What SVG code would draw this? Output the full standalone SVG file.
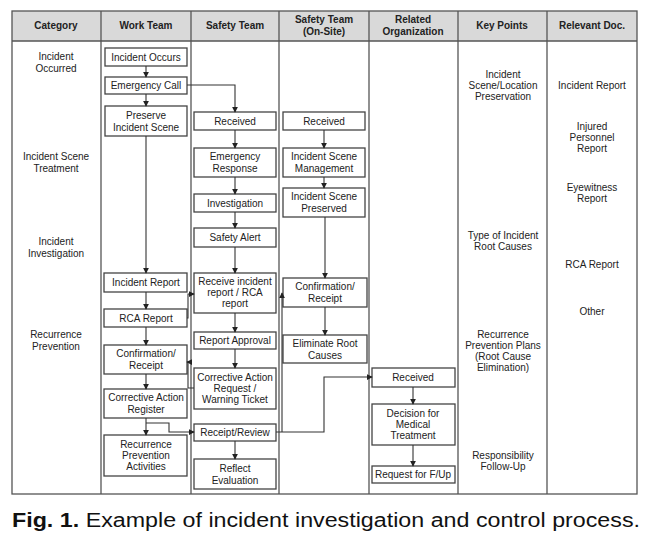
<svg xmlns="http://www.w3.org/2000/svg" width="657" height="540" viewBox="0 0 657 540">
<defs>
<style>
.grid{fill:none;stroke:#555;stroke-width:1.3}
.hdr{fill:#d9d9d9}
.box{fill:#fff;stroke:#444;stroke-width:1.3}
.t{font-family:"Liberation Sans",Arial,sans-serif;font-size:10px;fill:#222;text-anchor:middle}
.h{font-family:"Liberation Sans",Arial,sans-serif;font-size:10px;font-weight:bold;fill:#222;text-anchor:middle}
.c{fill:none;stroke:#333;stroke-width:1.1}
</style>
<marker id="a" viewBox="0 0 8 8" refX="7" refY="4" markerWidth="6" markerHeight="6" orient="auto" markerUnits="userSpaceOnUse"><path d="M0,0 L8,4 L0,8 z" fill="#222"/></marker>
</defs>
<rect x="0" y="0" width="657" height="540" fill="#fff"/>
<g id="table">
<rect class="hdr" x="12" y="11" width="625" height="30"/>
<rect class="grid" x="12" y="11" width="625" height="483"/>
<line class="grid" x1="12" y1="41" x2="637" y2="41"/>
<line class="grid" x1="101" y1="11" x2="101" y2="494"/>
<line class="grid" x1="191" y1="11" x2="191" y2="494"/>
<line class="grid" x1="279" y1="11" x2="279" y2="494"/>
<line class="grid" x1="369" y1="11" x2="369" y2="494"/>
<line class="grid" x1="458" y1="11" x2="458" y2="494"/>
<line class="grid" x1="547" y1="11" x2="547" y2="494"/>
<text class="h" x="56" y="29">Category</text>
<text class="h" x="146" y="29">Work Team</text>
<text class="h" x="235" y="29">Safety Team</text>
<text class="h" x="324" y="23">Safety Team</text>
<text class="h" x="324" y="35">(On-Site)</text>
<text class="h" x="413" y="23">Related</text>
<text class="h" x="413" y="35">Organization</text>
<text class="h" x="502" y="29">Key Points</text>
<text class="h" x="592" y="29">Relevant Doc.</text>
</g>
<g id="category">
<text class="t" x="56" y="60">Incident</text>
<text class="t" x="56" y="72">Occurred</text>
<text class="t" x="56" y="160">Incident Scene</text>
<text class="t" x="56" y="172">Treatment</text>
<text class="t" x="56" y="245">Incident</text>
<text class="t" x="56" y="257">Investigation</text>
<text class="t" x="56" y="338">Recurrence</text>
<text class="t" x="56" y="350">Prevention</text>
</g>
<g id="keypoints">
<text class="t" x="503" y="78">Incident</text>
<text class="t" x="503" y="89">Scene/Location</text>
<text class="t" x="503" y="100">Preservation</text>
<text class="t" x="503" y="239">Type of Incident</text>
<text class="t" x="503" y="250">Root Causes</text>
<text class="t" x="503" y="338">Recurrence</text>
<text class="t" x="503" y="349">Prevention Plans</text>
<text class="t" x="503" y="360">(Root Cause</text>
<text class="t" x="503" y="371">Elimination)</text>
<text class="t" x="503" y="459">Responsibility</text>
<text class="t" x="503" y="470">Follow-Up</text>
</g>
<g id="docs">
<text class="t" x="592" y="89">Incident Report</text>
<text class="t" x="592" y="130">Injured</text>
<text class="t" x="592" y="141">Personnel</text>
<text class="t" x="592" y="152">Report</text>
<text class="t" x="592" y="191">Eyewitness</text>
<text class="t" x="592" y="202">Report</text>
<text class="t" x="592" y="268">RCA Report</text>
<text class="t" x="592" y="315">Other</text>
</g>
<g id="n-incident-occurs"><rect class="box" x="105" y="48" width="82" height="18"/><text class="t" x="146" y="61">Incident Occurs</text></g>
<g id="n-emergency-call"><rect class="box" x="105" y="77" width="82" height="17"/><text class="t" x="146" y="89">Emergency Call</text></g>
<g id="n-preserve"><rect class="box" x="105" y="106" width="82" height="30"/><text class="t" x="146" y="119">Preserve</text><text class="t" x="146" y="131">Incident Scene</text></g>
<g id="n-incident-report"><rect class="box" x="104" y="273" width="83" height="19"/><text class="t" x="146" y="286">Incident Report</text></g>
<g id="n-rca-report"><rect class="box" x="104" y="309" width="83" height="18"/><text class="t" x="146" y="322">RCA Report</text></g>
<g id="n-confirm-wt"><rect class="box" x="104" y="345" width="83" height="29"/><text class="t" x="146" y="357">Confirmation/</text><text class="t" x="146" y="369">Receipt</text></g>
<g id="n-car"><rect class="box" x="104" y="389" width="83" height="29"/><text class="t" x="146" y="401">Corrective Action</text><text class="t" x="146" y="413">Register</text></g>
<g id="n-rpa"><rect class="box" x="104" y="435" width="83" height="41"/><text class="t" x="146" y="448">Recurrence</text><text class="t" x="146" y="459">Prevention</text><text class="t" x="146" y="470">Activities</text></g>
<g id="n-received-st"><rect class="box" x="194" y="112" width="82" height="18"/><text class="t" x="235" y="125">Received</text></g>
<g id="n-emergency-response"><rect class="box" x="194" y="148" width="82" height="29"/><text class="t" x="235" y="160">Emergency</text><text class="t" x="235" y="172">Response</text></g>
<g id="n-investigation"><rect class="box" x="194" y="194" width="82" height="18"/><text class="t" x="235" y="207">Investigation</text></g>
<g id="n-safety-alert"><rect class="box" x="194" y="228" width="82" height="19"/><text class="t" x="235" y="241">Safety Alert</text></g>
<g id="n-receive-report"><rect class="box" x="194" y="273" width="82" height="40"/><text class="t" x="235" y="285">Receive incident</text><text class="t" x="235" y="296">report / RCA</text><text class="t" x="235" y="307">report</text></g>
<g id="n-report-approval"><rect class="box" x="194" y="332" width="82" height="17"/><text class="t" x="235" y="344">Report Approval</text></g>
<g id="n-car-request"><rect class="box" x="194" y="368" width="82" height="41"/><text class="t" x="235" y="381">Corrective Action</text><text class="t" x="235" y="392">Request /</text><text class="t" x="235" y="403">Warning Ticket</text></g>
<g id="n-receipt-review"><rect class="box" x="194" y="424" width="82" height="17"/><text class="t" x="235" y="436">Receipt/Review</text></g>
<g id="n-reflect"><rect class="box" x="194" y="459" width="82" height="30"/><text class="t" x="235" y="472">Reflect</text><text class="t" x="235" y="484">Evaluation</text></g>
<g id="n-received-os"><rect class="box" x="283" y="112" width="82" height="18"/><text class="t" x="324" y="125">Received</text></g>
<g id="n-scene-mgmt"><rect class="box" x="283" y="148" width="82" height="29"/><text class="t" x="324" y="160">Incident Scene</text><text class="t" x="324" y="172">Management</text></g>
<g id="n-scene-preserved"><rect class="box" x="283" y="188" width="82" height="29"/><text class="t" x="324" y="200">Incident Scene</text><text class="t" x="324" y="212">Preserved</text></g>
<g id="n-confirm-os"><rect class="box" x="283" y="278" width="84" height="29"/><text class="t" x="325" y="290">Confirmation/</text><text class="t" x="325" y="302">Receipt</text></g>
<g id="n-eliminate"><rect class="box" x="283" y="335" width="84" height="28"/><text class="t" x="325" y="347">Eliminate Root</text><text class="t" x="325" y="359">Causes</text></g>
<g id="n-received-ro"><rect class="box" x="372" y="368" width="83" height="19"/><text class="t" x="413" y="381">Received</text></g>
<g id="n-decision"><rect class="box" x="372" y="404" width="83" height="41"/><text class="t" x="413" y="417">Decision for</text><text class="t" x="413" y="428">Medical</text><text class="t" x="413" y="439">Treatment</text></g>
<g id="n-request-fup"><rect class="box" x="372" y="466" width="83" height="17"/><text class="t" x="413" y="478">Request for F/Up</text></g>
<g id="connectors">
<path class="c" d="M146,66 V77" marker-end="url(#a)"/>
<path class="c" d="M146,94 V106" marker-end="url(#a)"/>
<path class="c" d="M187,85 H235 V112" marker-end="url(#a)"/>
<path class="c" d="M146,136 V273" marker-end="url(#a)"/>
<path class="c" d="M146,292 V309" marker-end="url(#a)"/>
<path class="c" d="M146,327 V345" marker-end="url(#a)"/>
<path class="c" d="M146,374 V389" marker-end="url(#a)"/>
<path class="c" d="M146,418 V435" marker-end="url(#a)"/>
<path class="c" d="M146,423 H169 V432 H194" marker-end="url(#a)"/>
<path class="c" d="M187,318 H188 V294 H194" marker-end="url(#a)"/>
<path class="c" d="M194,388 H188 V362 H187" marker-end="url(#a)"/>
<path class="c" d="M235,130 V148" marker-end="url(#a)"/>
<path class="c" d="M235,177 V194" marker-end="url(#a)"/>
<path class="c" d="M235,212 V228" marker-end="url(#a)"/>
<path class="c" d="M235,247 V273" marker-end="url(#a)"/>
<path class="c" d="M235,313 V332" marker-end="url(#a)"/>
<path class="c" d="M235,349 V368" marker-end="url(#a)"/>
<path class="c" d="M235,441 V459" marker-end="url(#a)"/>
<path class="c" d="M276,432 H324 V377 H372" marker-end="url(#a)"/>
<path class="c" d="M282,432 V293" marker-end="url(#a)"/>
<path class="c" d="M324,130 V148" marker-end="url(#a)"/>
<path class="c" d="M324,177 V188" marker-end="url(#a)"/>
<path class="c" d="M325,217 V278" marker-end="url(#a)"/>
<path class="c" d="M325,307 V335" marker-end="url(#a)"/>
<path class="c" d="M413,387 V404" marker-end="url(#a)"/>
<path class="c" d="M413,445 V466" marker-end="url(#a)"/>
</g>
<g id="caption">
<text x="12" y="527" font-family="'Liberation Sans',Arial,sans-serif" font-size="20" fill="#111" textLength="628" lengthAdjust="spacingAndGlyphs"><tspan font-weight="bold">Fig. 1.</tspan> Example of incident investigation and control process.</text>
</g>
</svg>
